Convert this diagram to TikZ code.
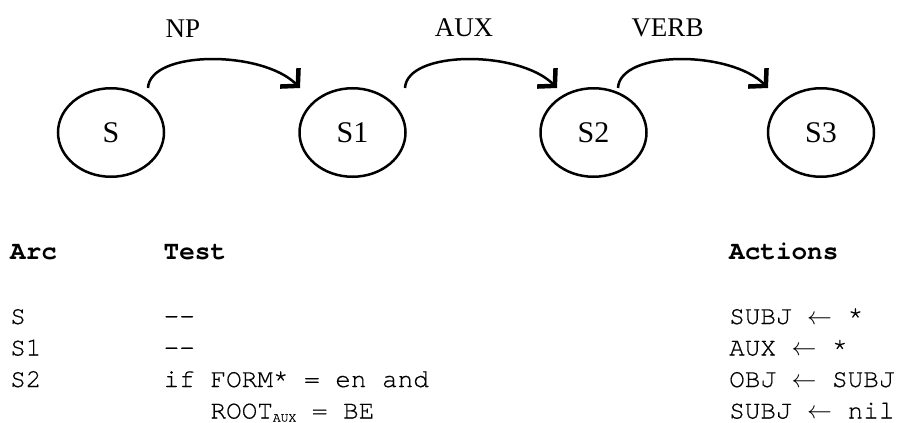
\documentclass[tikz,border=0pt]{standalone}
\usepackage{fontspec}
\setmainfont{Liberation Serif}
\newfontfamily\monofont[FakeBold=0.5]{TeX Gyre Cursor}
\newfontfamily\monohead{TeX Gyre Cursor}
\usetikzlibrary{shapes.geometric,arrows.meta,calc}
\begin{document}
\begin{tikzpicture}[x=1pt,y=-1pt,
  state/.style={ellipse,draw,line width=2.5pt,minimum width=106pt,minimum height=88.5pt,inner sep=0pt,font=\fontsize{30}{36}\selectfont},
  arclabel/.style={anchor=base,inner sep=0pt,font=\fontsize{27}{32}\selectfont},
  trans/.style={line width=2.5pt,-{Straight Barb[length=12pt,width=26pt,line width=4.5pt,sharp]}},
  mono/.style={anchor=base west,inner sep=0pt,font=\monofont\fontsize{26}{30}\selectfont},
  monob/.style={anchor=base west,inner sep=0pt,font=\monohead\bfseries\fontsize{26}{30}\selectfont}]
\useasboundingbox (0,0) rectangle (900,423);
% states
\node[state] (S)  at (111,132.5)   {S};
\node[state] (S1) at (352.5,132.5) {S1};
\node[state] (S2) at (593.5,132.5) {S2};
\node[state] (S3) at (821,132.5)   {S3};
% transitions
\draw[trans] ($(S.center)+(37,-44.5)$) .. controls +(2,-38) and +(-38,-38) .. ($(S1.center)+(-52.5,-44.5)$);
\draw[trans] ($(S1.center)+(52.5,-44.5)$) .. controls +(2,-38) and +(-38,-38) .. ($(S2.center)+(-36.5,-44.5)$);
\draw[trans] ($(S2.center)+(24.5,-44.5)$) .. controls +(2,-38) and +(-38,-38) .. ($(S3.center)+(-53,-44.5)$);
% arc labels
\node[arclabel] (lNP)   at (183,37)   {NP};
\node[arclabel] (lAUX)  at (464,36)   {AUX};
\node[arclabel] (lVERB) at (667.5,36) {VERB};
% table header
\node[monob] (hArc)  at (10,259)    {Arc};
\node[monob] (hTest) at (163.5,259) {Test};
\node[monob] (hAct)  at (729,259)   {Actions};
% rows
\node[mono] (a1) at (10,324)   {S};
\node[mono] (a2) at (10,355.5) {S1};
\node[mono] (a3) at (10,387)   {S2};
\node[mono] (t1) at (163.5,324)   {-{}-};
\node[mono] (t2) at (163.5,355.5) {-{}-};
\node[mono] (t3) at (163.5,387)   {if FORM* = en and};
\node[mono] (t4) at (210.3,418.5) {ROOT\raisebox{-3pt}{\fontsize{13}{13}\selectfont AUX} = BE};
\node[mono] (c1) at (729,324)   {SUBJ $\leftarrow$ *};
\node[mono] (c2) at (729,355.5) {AUX $\leftarrow$ *};
\node[mono] (c3) at (729,387)   {OBJ $\leftarrow$ SUBJ};
\node[mono] (c4) at (729,418.5) {SUBJ $\leftarrow$ nil};
\end{tikzpicture}
\end{document}
